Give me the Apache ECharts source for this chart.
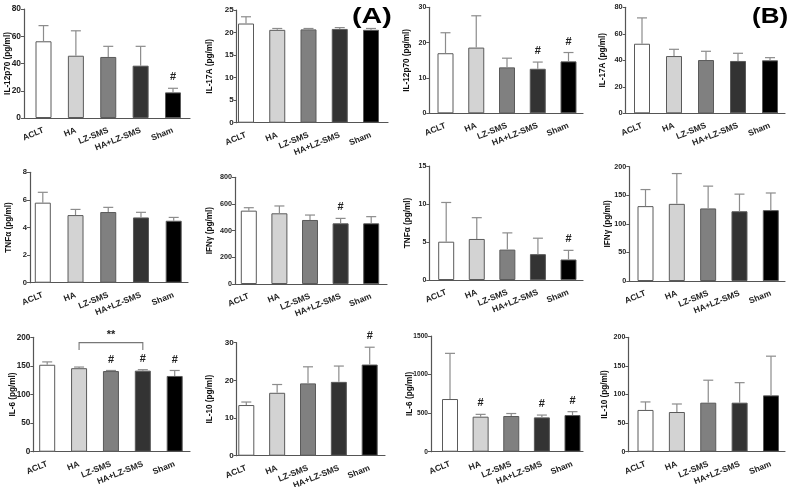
<!DOCTYPE html>
<html>
<head>
<meta charset="utf-8">
<script src="https://cdn.jsdelivr.net/npm/echarts@6/dist/echarts.min.js"></script>
<style>html,body{margin:0;padding:0;background:#fff}#c{width:789px;height:487px}</style>
</head>
<body>
<div id="c"></div>
<script>
// ---------- DATA ----------
const categories = ['ACLT', 'HA', 'LZ-SMS', 'HA+LZ-SMS', 'Sham'];

// (A) IL-12p70
const aIL12p70Mean = [56.3, 45.7, 44.8, 38.4, 18.8];
const aIL12p70Err  = [11.5, 18.3, 7.8, 14.2, 3.0];
const aIL12p70Sig  = ['', '', '', '', '#'];
const aIL12p70Ticks = [0, 20, 40, 60, 80];
// (A) IL-17A
const aIL17AMean = [22.0, 20.6, 20.7, 20.8, 20.6];
const aIL17AErr  = [1.5, 0.3, 0.2, 0.3, 0.3];
const aIL17ASig  = ['', '', '', '', ''];
const aIL17ATicks = [0, 5, 10, 15, 20, 25];
// (B) IL-12p70
const bIL12p70Mean = [17.0, 18.6, 13.0, 12.6, 14.7];
const bIL12p70Err  = [5.8, 9.0, 2.6, 1.9, 2.5];
const bIL12p70Sig  = ['', '', '', '#', '#'];
const bIL12p70Ticks = [0, 10, 20, 30];
// (B) IL-17A
const bIL17AMean = [52.5, 43.2, 40.2, 39.5, 40.0];
const bIL17AErr  = [19.5, 5.1, 6.6, 5.8, 2.0];
const bIL17ASig  = ['', '', '', '', ''];
const bIL17ATicks = [0, 20, 40, 60, 80];
// (A) TNFα
const aTNFMean = [5.8, 4.9, 5.12, 4.73, 4.49];
const aTNFErr  = [0.75, 0.41, 0.34, 0.37, 0.24];
const aTNFSig  = ['', '', '', '', ''];
const aTNFTicks = [0, 2, 4, 6, 8];
// (A) IFNγ
const aIFNMean = [550, 530, 480, 455, 455];
const aIFNErr  = [22, 55, 37, 37, 50];
const aIFNSig  = ['', '', '', '#', ''];
const aIFNTicks = [0, 200, 400, 600, 800];
// (B) TNFα
const bTNFMean = [5.04, 5.4, 4.0, 3.4, 2.7];
const bTNFErr  = [5.16, 2.8, 2.2, 2.1, 1.2];
const bTNFSig  = ['', '', '', '', '#'];
const bTNFTicks = [0, 5, 10, 15];
// (B) IFNγ
const bIFNMean = [131, 135, 127, 122, 124];
const bIFNErr  = [29, 53, 39, 30, 30];
const bIFNSig  = ['', '', '', '', ''];
const bIFNTicks = [0, 50, 100, 150, 200];
// (A) IL-6
const aIL6Mean = [152, 146, 141, 141.7, 132.4];
const aIL6Err  = [5, 2, 1, 1.7, 9.6];
const aIL6Sig  = ['', '', '#', '#', '#'];
const aIL6Ticks = [0, 50, 100, 150, 200];
const aIL6Bracket = [1, 3, 190.7, 177.8]; // from, to, top value, foot value
const aIL6BracketLabel = '**';
// (A) IL-10
const aIL10Mean = [13.45, 16.7, 19.2, 19.6, 24.2];
const aIL10Err  = [0.8, 2.2, 4.4, 4.2, 4.6];
const aIL10Sig  = ['', '', '', '', '#'];
const aIL10Ticks = [0, 10, 20, 30];
// (B) IL-6
const bIL6Mean = [683, 454, 463, 445, 475];
const bIL6Err  = [592, 30, 32, 30, 44];
const bIL6Sig  = ['', '#', '', '#', '#'];
const bIL6Ticks = [0, 500, 1000, 1500];
// (B) IL-10
const bIL10Mean = [73, 69.4, 85.7, 85.7, 98.5];
const bIL10Err  = [14, 14, 39.3, 35, 68.5];
const bIL10Sig  = ['', '', '', '', ''];
const bIL10Ticks = [0, 50, 100, 150, 200];

const yNames = ['IL-12p70 (pg/ml)', 'IL-17A (pg/ml)', 'IL-12p70 (pg/ml)', 'IL-17A (pg/ml)',
                'TNFα (pg/ml)', 'IFNγ (pg/ml)', 'TNFα (pg/ml)', 'IFNγ (pg/ml)',
                'IL-6 (pg/ml)', 'IL-10 (pg/ml)', 'IL-6 (pg/ml)', 'IL-10 (pg/ml)'];

// ---------- LAYOUT / STYLE ----------
// [axisX, axisEnd, topY, zeroY, firstBarCenter, lastBarCenter, nameGap, tickFontSize]
const layouts = [
  [24, 190, 9, 118, 43.5, 173, 12, 8.4],
  [236.7, 388, 10, 122.7, 246, 371, 23, 8],
  [429.3, 583, 7.3, 113.3, 445.5, 568.5, 19, 7],
  [625.7, 785, 7.3, 113.3, 642, 770, 19, 7.4],
  [30, 188, 172.3, 282.7, 42.8, 173.7, 17, 7.6],
  [235, 387, 177.3, 284, 248.8, 371.2, 21.7, 7.2],
  [429.3, 583, 166, 280, 446.2, 568.5, 18, 7],
  [629.3, 785, 166.7, 281, 645.5, 770.8, 17.6, 7.2],
  [33.3, 190, 337.3, 451.7, 47.2, 174.7, 17, 8.2],
  [236.7, 385, 342.7, 455.7, 246.3, 369.7, 23, 8.1],
  [431, 583, 336, 451.7, 450, 572.5, 17.7, 6.6],
  [628.3, 785, 337.3, 451.7, 645.5, 771, 20, 7]
];
const barColors = ['#ffffff', '#d3d3d3', '#808080', '#333333', '#000000'];
const FONT = 'Arial, "Liberation Sans", sans-serif';

const panels = [
  [aIL12p70Mean, aIL12p70Err, aIL12p70Sig, aIL12p70Ticks],
  [aIL17AMean, aIL17AErr, aIL17ASig, aIL17ATicks],
  [bIL12p70Mean, bIL12p70Err, bIL12p70Sig, bIL12p70Ticks],
  [bIL17AMean, bIL17AErr, bIL17ASig, bIL17ATicks],
  [aTNFMean, aTNFErr, aTNFSig, aTNFTicks],
  [aIFNMean, aIFNErr, aIFNSig, aIFNTicks],
  [bTNFMean, bTNFErr, bTNFSig, bTNFTicks],
  [bIFNMean, bIFNErr, bIFNSig, bIFNTicks],
  [aIL6Mean, aIL6Err, aIL6Sig, aIL6Ticks],
  [aIL10Mean, aIL10Err, aIL10Sig, aIL10Ticks],
  [bIL6Mean, bIL6Err, bIL6Sig, bIL6Ticks],
  [bIL10Mean, bIL10Err, bIL10Sig, bIL10Ticks]
];

const grids = [], xAxes = [], yAxes = [], series = [];
panels.forEach((p, i) => {
  const [mean, err, sig, ticks] = p;
  const [ax, ae, top, zero, c0, c4, gap, tfs] = layouts[i];
  const s = (c4 - c0) / (categories.length - 1);
  grids.push({ left: ax, top: top, width: ae - ax, height: zero - top,
               containLabel: false, outerBoundsMode: 'none' });
  xAxes.push({
    type: 'value', gridIndex: i,
    min: -(c0 - ax) / s, max: (categories.length - 1) + (ae - c4) / s,
    splitLine: { show: false },
    axisLine: { show: true, onZero: false, lineStyle: { color: '#555', width: 1.2 } },
    axisTick: { show: false },
    axisLabel: {
      customValues: categories.map((c, k) => k),
      formatter: v => categories[Math.round(v)],
      rotate: 22, margin: 12, fontSize: 8.5, fontWeight: 'bold', color: '#222', fontFamily: FONT
    }
  });
  yAxes.push({
    type: 'value', gridIndex: i,
    min: ticks[0], max: ticks[ticks.length - 1], interval: ticks[1] - ticks[0],
    splitLine: { show: false },
    axisLine: { show: true, onZero: false, lineStyle: { color: '#555', width: 1.2 } },
    axisTick: { show: true, length: 3, lineStyle: { color: '#555' } },
    axisLabel: { margin: 3, fontSize: tfs, fontWeight: 'bold', color: '#222', fontFamily: FONT,
                 formatter: v => String(v) },
    name: yNames[i], nameLocation: 'middle', nameGap: gap, nameMoveOverlap: false,
    nameTextStyle: { fontSize: 8.2, fontWeight: 'bold', color: '#111', fontFamily: FONT }
  });
  series.push({
    type: 'bar', xAxisIndex: i, yAxisIndex: i, barWidth: 16, z: 2,
    data: mean.map((v, k) => ({ value: [k, v],
      itemStyle: { color: barColors[k], borderColor: '#5a5a5a', borderWidth: 1 } }))
  });
  series.push({
    type: 'custom', xAxisIndex: i, yAxisIndex: i, z: 3, clip: false,
    data: mean.map((v, k) => [k, v, err[k]]),
    renderItem: (params, api) => {
      const x = api.value(0), m = api.value(1), e = api.value(2);
      const p0 = api.coord([x, m]);
      const p1 = api.coord([x, m + e]);
      const st = { stroke: '#8c8c8c', lineWidth: 1.2 };
      const children = [
        { type: 'line', shape: { x1: p0[0], y1: p0[1], x2: p1[0], y2: p1[1] }, style: st },
        { type: 'line', shape: { x1: p1[0] - 5, y1: p1[1], x2: p1[0] + 5, y2: p1[1] }, style: st }
      ];
      const lab = sig[params.dataIndex];
      if (lab) children.push({ type: 'text', x: p1[0], y: p1[1] - 11,
        style: { text: lab, fill: '#222', font: 'bold 11px ' + FONT, align: 'center', verticalAlign: 'middle' } });
      return { type: 'group', children };
    }
  });
});

// bracket in (A) IL-6 panel
series.push({
  type: 'custom', xAxisIndex: 8, yAxisIndex: 8, z: 4, clip: false,
  data: [aIL6Bracket],
  encode: { x: [0, 1], y: [2, 3] },
  renderItem: (params, api) => {
    const a = api.coord([api.value(0), api.value(3)]);
    const b = api.coord([api.value(0), api.value(2)]);
    const c = api.coord([api.value(1), api.value(2)]);
    const d = api.coord([api.value(1), api.value(3)]);
    return { type: 'group', children: [
      { type: 'polyline', shape: { points: [a, b, c, d] }, style: { stroke: '#777', lineWidth: 1.1, fill: null } },
      { type: 'text', x: (b[0] + c[0]) / 2, y: b[1] - 8,
        style: { text: aIL6BracketLabel, fill: '#222', font: 'bold 11px ' + FONT, align: 'center', verticalAlign: 'middle' } }
    ] };
  }
});

const chart = echarts.init(document.getElementById('c'), null, { renderer: 'canvas', width: 789, height: 487 });
chart.setOption({
  backgroundColor: '#ffffff',
  animation: false,
  grid: grids, xAxis: xAxes, yAxis: yAxes, series: series,
  graphic: [
    { type: 'text', left: 352, top: 6, style: { text: '(A)', font: 'bold 22px ' + FONT, fill: '#000' }, scaleX: 1.3 },
    { type: 'text', left: 752, top: 6, style: { text: '(B)', font: 'bold 22px ' + FONT, fill: '#000' }, scaleX: 1.18 }
  ]
});
</script>
</body>
</html>
